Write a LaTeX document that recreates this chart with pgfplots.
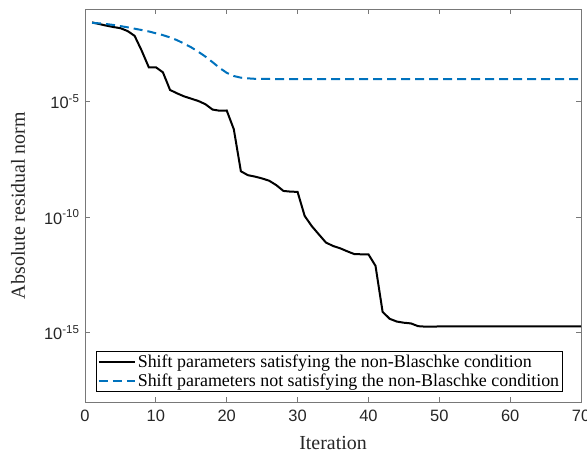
\documentclass[border=0pt]{standalone}
\usepackage{pgfplots}
\pgfplotsset{compat=1.18}
\usepackage{fontspec}
\setmainfont{Liberation Serif}
\newfontfamily\sansf{Liberation Sans}
\usetikzlibrary{calc}
\definecolor{mblue}{RGB}{0,114,189}
\definecolor{axgray}{RGB}{120,120,120}
\begin{document}
\begin{tikzpicture}
\begin{axis}[
  scale only axis, width=496bp, height=393bp,
  xmin=0, xmax=70, ymode=log, ymin=1e-18, ymax=1e-1,
  xtick={0,10,20,30,40,50,60,70},
  xticklabels={0,10,20,30,40,50,60,70},
  ytick={1e-15,1e-10,1e-5},
  yticklabels={10\textsuperscript{-15},10\textsuperscript{-10},10\textsuperscript{-5}},
  minor y tick num=0,
  tick align=inside,
  major tick length=5bp,
  axis line style={axgray, line width=0.8bp},
  tick style={axgray, line width=0.8bp},
  ticklabel style={font=\sansf\fontsize{16.5}{18}\selectfont, text=black!85},
  xticklabel style={yshift=-4bp},
  yticklabel style={xshift=-2bp},
  xlabel={Iteration},
  ylabel={Absolute residual norm},
  label style={font=\fontsize{20}{22}\selectfont, text=black!85},
  xlabel style={at={(axis description cs:0.5,-0.105)}, anchor=center},
  ylabel style={at={(axis description cs:-0.135,0.5)}, anchor=center},
  legend style={at={(rel axis cs:0.0222,0.0254)}, anchor=south west,
    font=\fontsize{18}{20}\selectfont, draw=black, line width=0.6bp,
    inner sep=1.5bp, row sep=1bp},
  legend cell align=left,
  legend image code/.code={\draw[#1] (0bp,0bp) -- (36bp,0bp);},
]
\addplot[black, line width=2bp] coordinates {
(1,0.0263) (2,0.0224) (3,0.0191) (4,0.0166) (5,0.0148) (6,0.0112) (7,0.00692) (8,0.00158) (9,3.02e-4) (10,3.02e-4)
(11,1.82e-4) (12,3.16e-5) (13,2.24e-5) (14,1.66e-5) (15,1.32e-5) (16,1.05e-5) (17,7.59e-6) (18,4.47e-6) (19,3.98e-6) (20,4.07e-6)
(21,6.31e-7) (22,9.55e-9) (23,6.46e-9) (24,5.62e-9) (25,4.68e-9) (26,3.72e-9) (27,2.40e-9) (28,1.35e-9) (29,1.26e-9) (30,1.23e-9)
(31,1.12e-10) (32,4.07e-11) (33,1.78e-11) (34,7.94e-12) (35,5.62e-12) (36,4.47e-12) (37,3.31e-12) (38,2.51e-12) (39,2.45e-12) (40,2.45e-12)
(41,7.76e-13) (42,7.94e-15) (43,3.98e-15) (44,3.02e-15) (45,2.69e-15) (46,2.51e-15) (47,1.91e-15) (48,1.82e-15) (49,1.82e-15) (50,1.86e-15)
(55,1.88e-15) (60,1.88e-15) (65,1.88e-15) (70,1.88e-15)
};
\addlegendentry{Shift parameters satisfying the non-Blaschke condition}
\addplot[mblue, line width=2bp, dash pattern=on 9bp off 5bp] coordinates {
(1,0.0251) (2,0.0240) (3,0.0224) (4,0.0204) (5,0.0182) (6,0.0162) (7,0.0141) (8,0.0123) (9,0.0107) (10,0.00891)
(11,0.00741) (12,0.00589) (13,0.00447) (14,0.00316) (15,0.00219) (16,0.00141) (17,8.71e-4) (18,5.01e-4) (19,2.82e-4) (20,1.74e-4)
(21,1.26e-4) (22,1.07e-4) (23,1.00e-4) (24,9.55e-5) (25,9.40e-5) (30,9.30e-5) (40,9.30e-5) (50,9.30e-5) (60,9.30e-5) (70,9.30e-5)
};
\addlegendentry{Shift parameters not satisfying the non-Blaschke condition}
\coordinate (bl) at (rel axis cs:0,0);
\coordinate (tr) at (rel axis cs:1,1);
\end{axis}
\pgfresetboundingbox
\path[use as bounding box] ($(bl)+(-85bp,-51bp)$) rectangle ($(tr)+(6bp,9bp)$);
\end{tikzpicture}
\end{document}
